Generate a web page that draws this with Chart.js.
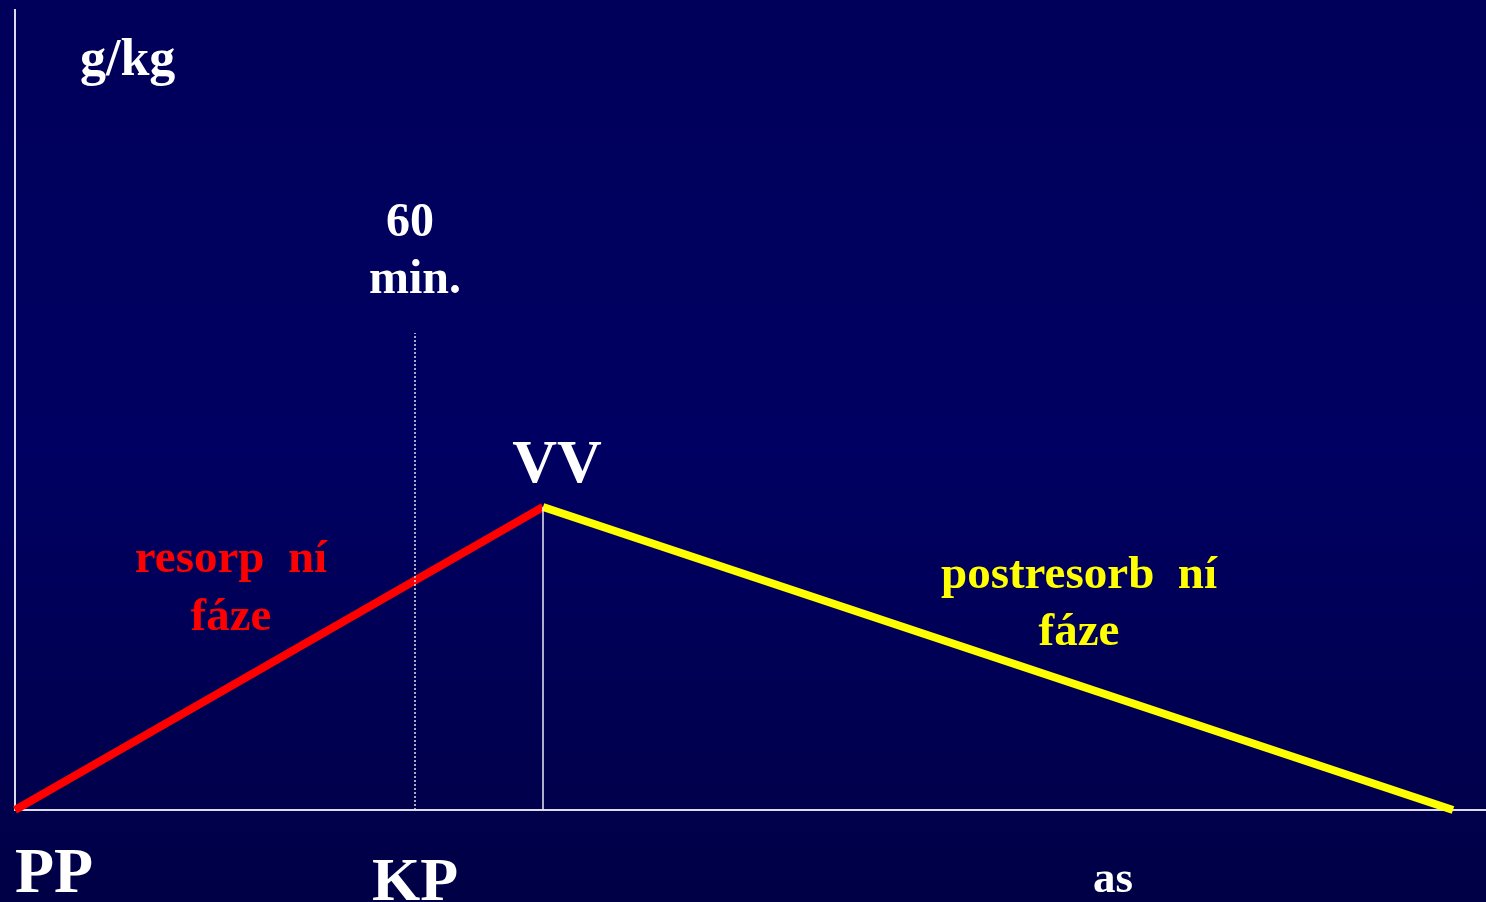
<!DOCTYPE html>
<html>
<head>
<meta charset="utf-8">
<script src="https://cdn.jsdelivr.net/npm/chart.js@4/dist/chart.umd.min.js"></script>
<style>
  html,body{margin:0;padding:0;background:#00004e;overflow:hidden;}
  #wrap{width:1486px;height:902px;position:relative;}
</style>
</head>
<body>
<div id="wrap"><canvas id="c" width="1486" height="902"></canvas></div>
<script>
(function () {
  'use strict';

  /* time axis (min) and concentration (g/kg) */
  var resorpX   = [0, 79.2];
  var resorpY   = [0, 3.03];
  var postX     = [79.2, 215.7];
  var postY     = [3.03, 0];
  var peakX     = [79.2, 79.2];
  var peakY     = [0, 3.03];
  var markX     = [60, 60];
  var markY     = [0, 4.77];
  var xRange    = [0, 220.65];
  var yRange    = [0, 8];

  function pts(xs,ys){return xs.map(function(x,i){return {x:x,y:ys[i]};});}

  var SERIF='"Liberation Serif","Times New Roman",serif';

  var bgPlugin={
    id:'bg',
    beforeDraw:function(ch){
      var c=ch.ctx,w=ch.width,h=ch.height;
      var g=c.createLinearGradient(0,0,0,h);
      g.addColorStop(0,'#00005a');g.addColorStop(0.5,'#000062');g.addColorStop(1,'#000046');
      c.save();c.fillStyle=g;c.fillRect(0,0,w,h);c.restore();
    }
  };

  /* slide labels */
  var labels=[
    {t:'g/kg',x:80,y:75,size:52,col:'#ffffff',align:'left'},
    {t:'60',x:410,y:236,size:48,col:'#ffffff'},
    {t:'min.',x:415,y:293,size:48,col:'#ffffff'},
    {t:'VV',x:557,y:482,size:62,col:'#ffffff'},
    {t:'PP',x:15,y:892,size:64,col:'#ffffff',align:'left'},
    {t:'KP',x:415,y:900,size:62,col:'#ffffff'},
    {t:'as',x:1113,y:892,size:45,col:'#ffffff'},
    {t:'resorp  ní',x:231,y:572,size:47,col:'#ff0000'},
    {t:'fáze',x:231,y:630,size:47,col:'#ff0000'},
    {t:'postresorb  ní',x:1079,y:588,size:47,col:'#ffff00'},
    {t:'fáze',x:1079,y:645,size:47,col:'#ffff00'}
  ];
  var textPlugin={
    id:'texts',
    afterDraw:function(ch){
      var c=ch.ctx;c.save();c.textBaseline='alphabetic';
      labels.forEach(function(l){
        c.font='bold '+l.size+'px '+SERIF;c.fillStyle=l.col;c.textAlign=l.align||'center';
        c.fillText(l.t,l.x,l.y);
      });
      c.restore();
    }
  };

  var axisBorder={display:true,color:'#dcdcec',width:2};

  new Chart(document.getElementById('c'),{
    type:'scatter',
    data:{datasets:[
      {data:pts(markX,markY),showLine:true,borderColor:'#e0e0f0',borderWidth:1.5,borderDash:[2,2],pointRadius:0,clip:false},
      {data:pts(peakX,peakY),showLine:true,borderColor:'#e8e8f4',borderWidth:1.5,pointRadius:0,clip:false},
      {data:pts(postX,postY),showLine:true,borderColor:'#ffff00',borderWidth:8,pointRadius:0,clip:false},
      {data:pts(resorpX,resorpY),showLine:true,borderColor:'#ff0000',borderWidth:8,pointRadius:0,clip:false}
    ]},
    options:{
      responsive:false,animation:false,
      layout:{padding:{left:15,top:10,right:0,bottom:92}},
      plugins:{legend:{display:false},tooltip:{enabled:false}},
      scales:{
        x:{type:'linear',min:xRange[0],max:xRange[1],grid:{display:false,drawTicks:false},ticks:{display:false},border:axisBorder},
        y:{type:'linear',min:yRange[0],max:yRange[1],grid:{display:false,drawTicks:false},ticks:{display:false},border:axisBorder}
      }
    },
    plugins:[bgPlugin,textPlugin]
  });
})();
</script>
</body>
</html>
